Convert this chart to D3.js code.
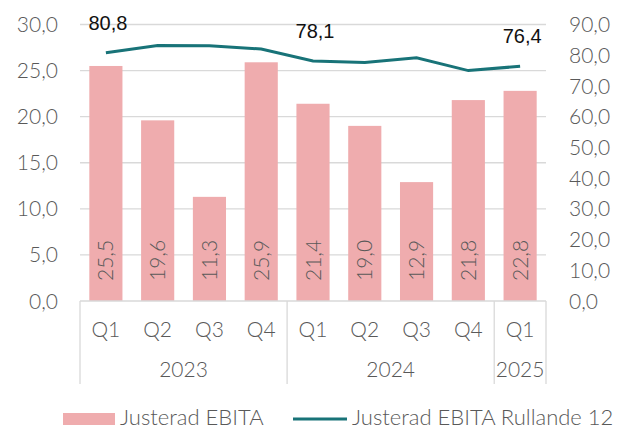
<!DOCTYPE html>
<html>
<head>
<meta charset="utf-8">
<script src="https://cdn.jsdelivr.net/npm/d3@7"></script>
<style>
  body { margin: 0; background: #fff; }
  svg text { font-family: Lato, "DejaVu Sans", sans-serif; font-weight: 300; fill: #595959; }
</style>
</head>
<body>
<svg id="chart" width="632" height="429"></svg>
<script>
// Data

const quarters = ["Q1", "Q2", "Q3", "Q4", "Q1", "Q2", "Q3", "Q4", "Q1"];
const years = ["2023", "2023", "2023", "2023", "2024", "2024", "2024", "2024", "2025"];
const ebita = [25.5, 19.6, 11.3, 25.9, 21.4, 19.0, 12.9, 21.8, 22.8];
const ebitaLtm = [80.8, 83.2, 83.1, 82.0, 78.1, 77.6, 79.2, 75.0, 76.4];
const labelledPoints = [0, 4, 8];
const leftTicks = [0, 5, 10, 15, 20, 25, 30];
const rightTicks = [0, 10, 20, 30, 40, 50, 60, 70, 80, 90];
const seriesNames = ["Justerad EBITA", "Justerad EBITA Rullande 12"];

// Layout

const margin = { top: 24.5, left: 80, right: 86, bottom: 128 };
const width = 632;
const height = 429;
const barColor = "#EFACAE";
const lineColor = "#187378";
const gridColor = "#D9D9D9";

const fmt = (v) => v.toFixed(1).replace(".", ",");

const svg = d3.select("#chart");

const x = d3.scaleBand()
  .domain(d3.range(quarters.length))
  .range([margin.left, width - margin.right])
  .paddingInner(0.36)
  .paddingOuter(0.18);

const yLeft = d3.scaleLinear().domain([0, 30]).range([height - margin.bottom, margin.top]);
const yRight = d3.scaleLinear().domain([0, 90]).range([height - margin.bottom, margin.top]);

// Gridlines

svg.append("g").selectAll("line")
  .data(leftTicks.filter((t) => t > 0))
  .enter()
  .append("line")
  .attr("x1", margin.left)
  .attr("x2", width - margin.right)
  .attr("y1", (d) => yLeft(d))
  .attr("y2", (d) => yLeft(d))
  .attr("stroke", gridColor)
  .attr("stroke-width", 1.3);

// Left axis labels

svg.append("g").selectAll("text")
  .data(leftTicks)
  .enter()
  .append("text")
  .attr("x", 58)
  .attr("y", (d) => yLeft(d))
  .attr("dy", "0.36em")
  .attr("text-anchor", "end")
  .style("font-size", "21px")
  .text(fmt);

// Right axis labels

svg.append("g").selectAll("text")
  .data(rightTicks)
  .enter()
  .append("text")
  .attr("x", 569)
  .attr("y", (d) => yRight(d))
  .attr("dy", "0.36em")
  .attr("text-anchor", "start")
  .style("font-size", "21px")
  .text(fmt);

// Bars

svg.append("g").selectAll("rect")
  .data(ebita)
  .enter()
  .append("rect")
  .attr("x", (d, i) => x(i))
  .attr("width", x.bandwidth())
  .attr("y", (d) => yLeft(d))
  .attr("height", (d) => yLeft(0) - yLeft(d))
  .attr("fill", barColor);

// Bar value labels (vertical)

svg.append("g").selectAll("text")
  .data(ebita)
  .enter()
  .append("text")
  .attr("transform", (d, i) => "translate(" + (x(i) + x.bandwidth() / 2) + "," + (yLeft(0) - 20) + ") rotate(-90)")
  .attr("dy", "0.36em")
  .attr("text-anchor", "start")
  .style("font-size", "21px")
  .text(fmt);

// Category axis

const axisY = yLeft(0);
const catAxis = svg.append("g");

catAxis.append("line")
  .attr("x1", margin.left)
  .attr("x2", width - margin.right)
  .attr("y1", axisY)
  .attr("y2", axisY)
  .attr("stroke", gridColor)
  .attr("stroke-width", 1.3);

const step = x.step();
const bounds = [0, 4, 8, 9].map((i) => margin.left + i * step);

catAxis.selectAll(".divider")
  .data(bounds)
  .enter()
  .append("line")
  .attr("class", "divider")
  .attr("x1", (d) => d)
  .attr("x2", (d) => d)
  .attr("y1", axisY)
  .attr("y2", 384)
  .attr("stroke", gridColor)
  .attr("stroke-width", 1.3);

catAxis.selectAll(".quarter")
  .data(quarters)
  .enter()
  .append("text")
  .attr("class", "quarter")
  .attr("x", (d, i) => x(i) + x.bandwidth() / 2)
  .attr("y", 337)
  .attr("text-anchor", "middle")
  .style("font-size", "21px")
  .text((d) => d);

const yearGroups = d3.groups(years.map((y, i) => ({ y, i })), (d) => d.y);

catAxis.selectAll(".year")
  .data(yearGroups)
  .enter()
  .append("text")
  .attr("class", "year")
  .attr("x", (d) => {
    const first = d[1][0].i;
    const last = d[1][d[1].length - 1].i;
    return margin.left + (first + last + 1) / 2 * step;
  })
  .attr("y", 377)
  .attr("text-anchor", "middle")
  .style("font-size", "21px")
  .text((d) => d[0]);

// Line

const line = d3.line()
  .x((d, i) => x(i) + x.bandwidth() / 2)
  .y((d) => yRight(d));

svg.append("path")
  .datum(ebitaLtm)
  .attr("d", line)
  .attr("fill", "none")
  .attr("stroke", lineColor)
  .attr("stroke-width", 3);

svg.append("g").selectAll("text")
  .data(labelledPoints)
  .enter()
  .append("text")
  .attr("x", (i) => x(i) + x.bandwidth() / 2 + 2)
  .attr("y", (i) => yRight(ebitaLtm[i]) - 23)
  .attr("text-anchor", "middle")
  .style("font-family", "'Liberation Sans', Arial, sans-serif")
  .style("font-weight", "400")
  .style("fill", "#111")
  .style("font-size", "20px")
  .text((i) => fmt(ebitaLtm[i]));

// Legend

const legend = svg.append("g");

legend.append("rect")
  .attr("x", 63)
  .attr("y", 413)
  .attr("width", 52)
  .attr("height", 12)
  .attr("fill", barColor);

legend.append("text")
  .attr("x", 120)
  .attr("y", 425)
  .style("font-size", "22px")
  .text(seriesNames[0]);

legend.append("line")
  .attr("x1", 293)
  .attr("x2", 347)
  .attr("y1", 419)
  .attr("y2", 419)
  .attr("stroke", lineColor)
  .attr("stroke-width", 3);

legend.append("text")
  .attr("x", 352)
  .attr("y", 425)
  .style("font-size", "22px")
  .text(seriesNames[1]);
</script>
</body>
</html>
